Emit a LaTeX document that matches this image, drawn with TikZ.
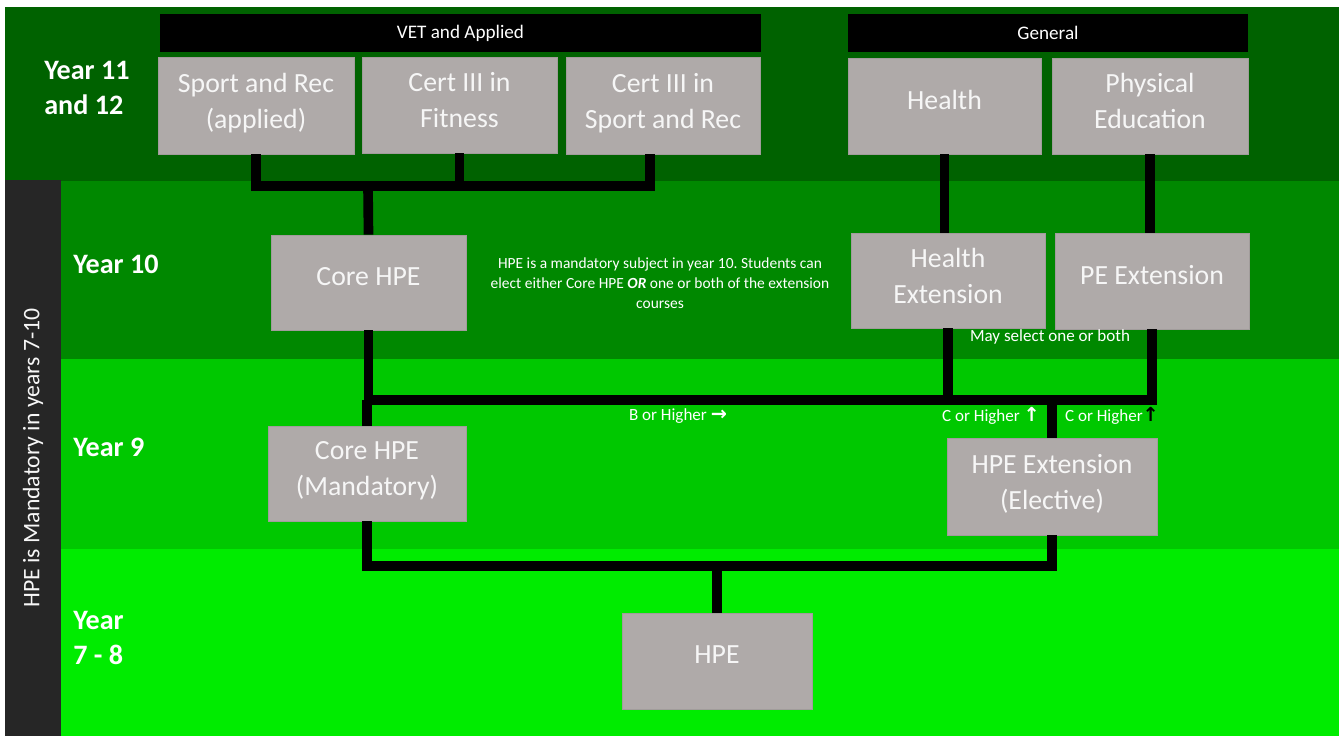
\documentclass[tikz,border=0pt]{standalone}
\usepackage{fontspec}
\setmainfont{Carlito}
\newfontfamily\arrowfont{DejaVu Sans}
\frenchspacing
\definecolor{bandA}{RGB}{0,98,0}
\definecolor{bandB}{RGB}{0,136,0}
\definecolor{bandC}{RGB}{0,200,0}
\definecolor{bandD}{RGB}{0,236,0}
\definecolor{sidebar}{RGB}{38,38,38}
\definecolor{boxgrey}{RGB}{175,170,169}
\definecolor{boxtext}{RGB}{246,246,246}

\begin{document}
\begin{tikzpicture}[x=0.02cm, y=-0.02cm,
  sz/.style 2 args={minimum width=#1cm, minimum height=#2cm},
  cbox/.style={fill=boxgrey, draw=boxgrey!92!black, inner sep=0pt, text=boxtext,
    align=center, text depth=5.5pt, font=\fontsize{15.8}{20.5}\selectfont},
  oneline/.style={text depth=7.4pt},
  head/.style={fill=black, inner sep=0pt, text=white, font=\fontsize{10.9}{12}\selectfont},
  yearlbl/.style={anchor=west, inner sep=0pt, text=white, align=left, font=\bfseries\fontsize{16}{20}\selectfont},
  small/.style={text=white, align=center, inner sep=0pt, font=\fontsize{9.7}{11.4}\selectfont},
  link/.style={line width=5.5pt, black}]
  \useasboundingbox (0,0) rectangle (1341,736);
  \fill [white] (0,0) rectangle (1341,736);
  % year bands
  \fill [bandA] (5,7) rectangle (1339,181);
  \fill [bandB] (5,181) rectangle (1339,359);
  \fill [bandC] (5,359) rectangle (1339,549);
  \fill [bandD] (5,549) rectangle (1339,736);
  \fill [sidebar] (5,180) rectangle (61,736);
  \node [rotate=90, text=boxtext, font=\fontsize{13.5}{16}\selectfont] (mand) at (33,458) {HPE is Mandatory in years 7-10};

  \node [yearlbl] (y11) at (44,88) {Year 11\\and 12};
  \node [yearlbl] (y10) at (73,264) {Year 10};
  \node [yearlbl] (y9) at (73,447) {Year 9};
  \node [yearlbl] (y78) at (73,638) {Year\\7 - 8};

  % headers
  \node [head, sz={12.02}{0.76}] (vet) at (460.5,33) {VET and Applied};
  \node [head, sz={8}{0.76}] (gen) at (1048,33) {General};

  % boxes
  \node [cbox, sz={3.92}{1.94}] (sport) at (256,105.5) {Sport and Rec\\(applied)};
  \node [cbox, sz={3.9}{1.92}] (fitness) at (459.5,105) {Cert III in\\Fitness};
  \node [cbox, sz={3.88}{1.94}] (certsport) at (663,105.5) {Cert III in\\Sport and Rec};
  \node [cbox, oneline, sz={3.86}{1.92}] (health) at (944.5,106) {Health};
  \node [cbox, sz={3.92}{1.92}] (pe) at (1150,106) {Physical\\Education};
  \node [cbox, oneline, sz={3.9}{1.9}] (core10) at (368.5,282.5) {Core HPE};
  \node [cbox, sz={3.88}{1.9}] (healthext) at (948,280.5) {Health\\Extension};
  \node [cbox, oneline, sz={3.88}{1.92}] (peext) at (1152,281) {PE Extension};
  \node [cbox, sz={3.96}{1.9}] (core9) at (367,473.5) {Core HPE\\(Mandatory)};
  \node [cbox, sz={4.2}{1.94}] (hpeext) at (1052,486.5) {HPE Extension\\(Elective)};
  \node [cbox, oneline, sz={3.8}{1.92}] (hpe) at (717,661) {HPE};

  % connectors
  \coordinate (jtop) at (368,186);
  \coordinate (jmid) at (370,400);
  \coordinate (jlow) at (718,566);
  \draw [link] (sport.south) -- (sport.south |- jtop) -- ([xshift=-7.4pt]certsport.south |- jtop) -- ([xshift=-7.4pt]certsport.south);
  \draw [link] (fitness.south) -- (fitness.south |- jtop);
  \draw [link] (jtop) -- (core10.north);
  \draw [link] (health.south) -- (health.south |- healthext.north);
  \draw [link] (pe.south) -- (pe.south |- peext.north);
  \draw [link] (core10.south) -- (core10.south |- jmid) -- (peext.south |- jmid) -- (peext.south);
  \draw [link] (healthext.south) -- (healthext.south |- jmid);
  \draw [link] (core9.north) -- (core9.north |- jmid);
  \draw [link] (hpeext.north) -- (hpeext.north |- jmid);
  \draw [link] (core9.south) -- (core9.south |- jlow) -- (hpeext.south |- jlow) -- (hpeext.south);
  \draw [link] (hpe.north) -- (hpe.north |- jlow);

  % notes
  \node [small, font=\fontsize{8.8}{11.4}\selectfont] (note) at (660,283) {HPE is a mandatory subject in year 10. Students can\\elect either Core HPE \textbf{\textit{OR}} one or both of the extension\\courses};
  \node [small] (maysel) at (1050,337) {May select one or both};
  \node [small] (bhigh) at (678,416) {B or Higher {\arrowfont\bfseries\fontsize{11}{10}\selectfont →}};
  \node [small] (chigh1) at (991,416) {C or Higher {\arrowfont\bfseries\fontsize{11}{10}\selectfont ↑}};
  \node [small] (chigh2) at (1112,416) {C or Higher{\arrowfont\bfseries\fontsize{11}{10}\selectfont\color{black}↑}};
\end{tikzpicture}
\end{document}
